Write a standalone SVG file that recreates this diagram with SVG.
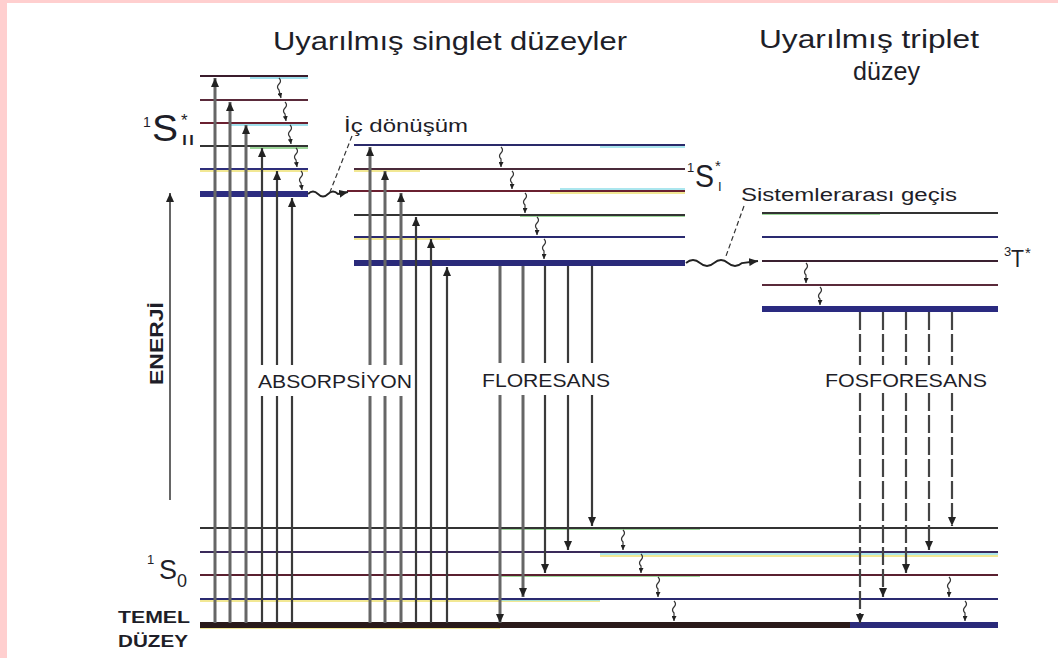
<svg xmlns="http://www.w3.org/2000/svg" width="1058" height="658" viewBox="0 0 1058 658">
<defs>
<style>
text{font-family:"Liberation Sans",Arial,sans-serif;fill:#1e1e28}
.ttl{font-size:25px}
.lbl{font-size:19px;letter-spacing:0}
.lv{fill:none;stroke-width:2}
.lvt{fill:none;stroke-width:6}
.fr{fill:none;stroke-width:2;opacity:.75}
.ab{fill:none;stroke:#3a3a3a;stroke-width:2.2}
.abg{fill:none;stroke:#666;stroke-width:3}
.ph{fill:none;stroke:#444;stroke-width:2.2;stroke-dasharray:18 4}
.sq{fill:none;stroke:#333;stroke-width:1.2}
.ld{fill:none;stroke:#333;stroke-width:1.2;stroke-dasharray:5 3}
.wv{fill:none;stroke:#222;stroke-width:1.8}
</style>
<marker id="ah" markerUnits="userSpaceOnUse" markerWidth="9" markerHeight="8" refX="9" refY="4" orient="auto"><path d="M0,0 L9,4 L0,8 z" fill="#222"/></marker>
<marker id="sh" markerUnits="userSpaceOnUse" markerWidth="5" markerHeight="5" refX="5" refY="2.5" orient="auto"><path d="M0,0 L5,2.5 L0,5 z" fill="#222"/></marker>
</defs>
<rect x="0" y="0" width="1058" height="658" fill="#ffffff"/>
<rect x="0" y="0" width="7" height="658" fill="#ffcfcf"/>
<rect x="0" y="0" width="1058" height="3" fill="#ffcfcf"/>

<!-- titles -->
<g id="titles">
<text class="ttl" x="273" y="50" textLength="354" lengthAdjust="spacingAndGlyphs">Uyarılmış singlet düzeyler</text>
<text class="ttl" x="759" y="48" textLength="220" lengthAdjust="spacingAndGlyphs">Uyarılmış triplet</text>
<text class="ttl" x="853" y="80" textLength="67" lengthAdjust="spacingAndGlyphs">düzey</text>
</g>

<!-- S_II levels -->
<g id="S2">
<path class="fr" d="M250,78 H308" stroke="#7fd6e6"/>
<path class="fr" d="M230,125 H308" stroke="#7fd6e6"/>
<path class="fr" d="M250,148 H308" stroke="#7cc878"/>
<path class="fr" d="M200,171 H308" stroke="#eee070"/>
<path class="lv" d="M200,76 H308" stroke="#3a1c2c"/>
<path class="lv" d="M200,100 H308" stroke="#5a2a3a"/>
<path class="lv" d="M200,123 H308" stroke="#6a2030"/>
<path class="lv" d="M200,146 H308" stroke="#333"/>
<path class="lv" d="M200,169 H308" stroke="#2e2e7a"/>
<path class="lvt" d="M200,194 H308" stroke="#2c2c80"/>
<text x="143" y="127" font-size="14">1</text>
<text x="152" y="141" font-size="36" textLength="26" lengthAdjust="spacingAndGlyphs">S</text>
<text x="181" y="126" font-size="17">*</text>
<text x="181" y="145" font-size="15" textLength="14" lengthAdjust="spacingAndGlyphs">II</text>
</g>

<!-- S1 levels -->
<g id="S1">
<path class="fr" d="M600,147 H685" stroke="#8fdde8"/>
<path class="fr" d="M354,171 H420" stroke="#eee070"/>
<path class="fr" d="M550,193 H685" stroke="#eee070"/>
<path class="fr" d="M560,189 H685" stroke="#8fdde8"/>
<path class="fr" d="M520,216 H685" stroke="#7cc878"/>
<path class="fr" d="M354,239 H450" stroke="#eee070"/>
<path class="lv" d="M354,145 H685" stroke="#2a2a6a"/>
<path class="lv" d="M354,169 H685" stroke="#4a2a3a"/>
<path class="lv" d="M347,191 H685" stroke="#6a2030"/>
<path class="lv" d="M354,215 H685" stroke="#333"/>
<path class="lv" d="M354,237 H685" stroke="#2a2a70"/>
<path class="lvt" d="M354,263 H685" stroke="#2a2a7a"/>
<text x="687" y="172" font-size="13">1</text>
<text x="695" y="187" font-size="32" textLength="19" lengthAdjust="spacingAndGlyphs">S</text>
<text x="715" y="171" font-size="15">*</text>
<text x="718" y="191" font-size="13">I</text>
</g>

<!-- triplet levels -->
<g id="T1">
<path class="fr" d="M762,214 H880" stroke="#7cc878"/>
<path class="lv" d="M762,213 H998" stroke="#333"/>
<path class="lv" d="M762,237 H998" stroke="#2a2a70"/>
<path class="lv" d="M762,261 H998" stroke="#3a2030"/>
<path class="lv" d="M762,285 H998" stroke="#5a2a3a"/>
<path class="lvt" d="M762,309 H998" stroke="#2a2a80"/>
<text x="1004" y="256" font-size="13">3</text>
<text x="1011" y="267" font-size="24" textLength="13" lengthAdjust="spacingAndGlyphs">T</text>
<text x="1025" y="258" font-size="15">*</text>
</g>

<!-- S0 levels -->
<g id="S0">
<path class="fr" d="M500,529 H700" stroke="#7cc878"/>
<path class="fr" d="M600,554 H998" stroke="#8fdde8"/>
<path class="fr" d="M600,556 H998" stroke="#eee070"/>
<path class="fr" d="M500,576 H700" stroke="#7cc878"/>
<path class="fr" d="M200,601 H600" stroke="#eee070"/>
<path class="fr" d="M500,600 H600" stroke="#8fdde8"/>
<path class="fr" d="M200,628 H500" stroke="#eee070"/>
<path class="lv" d="M200,528 H998" stroke="#333"/>
<path class="lv" d="M200,552 H998" stroke="#3a2a5a"/>
<path class="lv" d="M200,575 H998" stroke="#5a2030"/>
<path class="lv" d="M200,599 H998" stroke="#2a2a70"/>
<path class="lvt" d="M200,625 H850" stroke="#2a1a1a"/>
<path class="lvt" d="M850,625 H998" stroke="#2a2a7a"/>
<text x="147" y="564" font-size="13">1</text>
<text x="159" y="579" font-size="28" textLength="18" lengthAdjust="spacingAndGlyphs">S</text>
<text x="177" y="587" font-size="18">0</text>
<text x="118" y="623" font-size="17" font-weight="bold" textLength="72" lengthAdjust="spacingAndGlyphs">TEMEL</text>
<text x="118" y="647" font-size="17" font-weight="bold" textLength="70" lengthAdjust="spacingAndGlyphs">DÜZEY</text>
</g>

<!-- energy axis -->
<g id="energy">
<path d="M170,500 V193" fill="none" stroke="#333" stroke-width="1.5" marker-end="url(#ah)"/>
<text transform="translate(163,385) rotate(-90)" font-size="18" font-weight="bold" textLength="83" lengthAdjust="spacingAndGlyphs">ENERJİ</text>
</g>

<!-- connectors -->
<g id="connectors">
<path class="abg" d="M215,623 V78" marker-end="url(#ah)"/>
<path class="abg" d="M230,623 V102" marker-end="url(#ah)"/>
<path class="abg" d="M246,623 V125" marker-end="url(#ah)"/>
<path class="ab" d="M262,623 V396 M262,365 V148" marker-end="url(#ah)"/>
<path class="ab" d="M277,623 V396 M277,365 V171" marker-end="url(#ah)"/>
<path class="ab" d="M292,623 V396 M292,365 V198" marker-end="url(#ah)"/>
<path class="abg" d="M370,623 V396 M370,365 V147" marker-end="url(#ah)"/>
<path class="abg" d="M385,623 V396 M385,365 V171" marker-end="url(#ah)"/>
<path class="abg" d="M401,623 V396 M401,365 V193" marker-end="url(#ah)"/>
<path class="ab" d="M416,623 V217" marker-end="url(#ah)"/>
<path class="ab" d="M431,623 V239" marker-end="url(#ah)"/>
<path class="ab" d="M447,623 V267" marker-end="url(#ah)"/>
<path class="abg" d="M500,266 V363 M500,395 V623" marker-end="url(#ah)"/>
<path class="abg" d="M523,266 V363 M523,395 V597" marker-end="url(#ah)"/>
<path class="ab" d="M545,266 V363 M545,395 V573" marker-end="url(#ah)"/>
<path class="ab" d="M568,266 V363 M568,395 V550" marker-end="url(#ah)"/>
<path class="ab" d="M592,266 V363 M592,395 V526" marker-end="url(#ah)"/>
<path class="ph" d="M860,312 V365 M860,393 V623" marker-end="url(#ah)"/>
<path class="ph" d="M883,312 V365 M883,393 V597" marker-end="url(#ah)"/>
<path class="ph" d="M906,312 V365 M906,393 V573" marker-end="url(#ah)"/>
<path class="ph" d="M929,312 V365 M929,393 V550" marker-end="url(#ah)"/>
<path class="ph" d="M952,312 V365 M952,393 V526" marker-end="url(#ah)"/>
<path class="sq" d="M279,78 q3,3 0,6 q-3,3 0,6 L281,98" marker-end="url(#sh)"/>
<path class="sq" d="M285,102 q3,3 0,6 q-3,3 0,6 L286,121" marker-end="url(#sh)"/>
<path class="sq" d="M290,125 q3,3 0,6 q-3,3 0,6 L291,144" marker-end="url(#sh)"/>
<path class="sq" d="M296,148 q3,3 0,6 q-3,3 0,6 L297,167" marker-end="url(#sh)"/>
<path class="sq" d="M301,171 q3,3 0,6 q-3,3 0,6 L302,190" marker-end="url(#sh)"/>
<path class="sq" d="M501,147 q3,3 0,6 q-3,3 0,6 L501,167" marker-end="url(#sh)"/>
<path class="sq" d="M512,171 q3,3 0,6 q-3,3 0,6 L512,189" marker-end="url(#sh)"/>
<path class="sq" d="M525,193 q3,3 0,6 q-3,3 0,6 L525,213" marker-end="url(#sh)"/>
<path class="sq" d="M537,217 q3,3 0,6 q-3,3 0,6 L537,235" marker-end="url(#sh)"/>
<path class="sq" d="M544,239 q3,3 0,6 q-3,3 0,6 L544,259" marker-end="url(#sh)"/>
<path class="sq" d="M806,263 q3,3 0,6 q-3,3 0,6 L806,283" marker-end="url(#sh)"/>
<path class="sq" d="M820,287 q3,3 0,6 q-3,3 0,6 L820,305" marker-end="url(#sh)"/>
<path class="sq" d="M623,530 q3,3 0,6 q-3,3 0,6 L623,550" marker-end="url(#sh)"/>
<path class="sq" d="M641,554 q3,3 0,6 q-3,3 0,6 L641,573" marker-end="url(#sh)"/>
<path class="sq" d="M658,577 q3,3 0,6 q-3,3 0,6 L658,597" marker-end="url(#sh)"/>
<path class="sq" d="M674,601 q3,3 0,6 q-3,3 0,6 L674,621" marker-end="url(#sh)"/>
<path class="sq" d="M949,577 q3,3 0,6 q-3,3 0,6 L949,597" marker-end="url(#sh)"/>
<path class="sq" d="M965,601 q3,3 0,6 q-3,3 0,6 L965,621" marker-end="url(#sh)"/>
<path class="wv" d="M308,194 q5,-5 10,0 t10,0 t10,0 L348,192" marker-end="url(#ah)"/>
<path class="ld" d="M352,136 L330,192"/>
<path class="wv" d="M686,263 q7,-6 14,0 t14,0 t14,0 t14,0 L758,261" marker-end="url(#ah)"/>
<path class="ld" d="M744,206 L726,256"/>
</g>

<!-- labels -->
<g id="labels">
<text x="344" y="132" font-size="18" textLength="124" lengthAdjust="spacingAndGlyphs">İç dönüşüm</text>
<text x="741" y="201" font-size="18" textLength="216" lengthAdjust="spacingAndGlyphs">Sistemlerarası geçis</text>
<text class="lbl" x="258" y="388" textLength="154" lengthAdjust="spacingAndGlyphs">ABSORPSİYON</text>
<text class="lbl" x="482" y="387" textLength="128" lengthAdjust="spacingAndGlyphs">FLORESANS</text>
<text class="lbl" x="825" y="387" textLength="162" lengthAdjust="spacingAndGlyphs">FOSFORESANS</text>
</g>
</svg>
